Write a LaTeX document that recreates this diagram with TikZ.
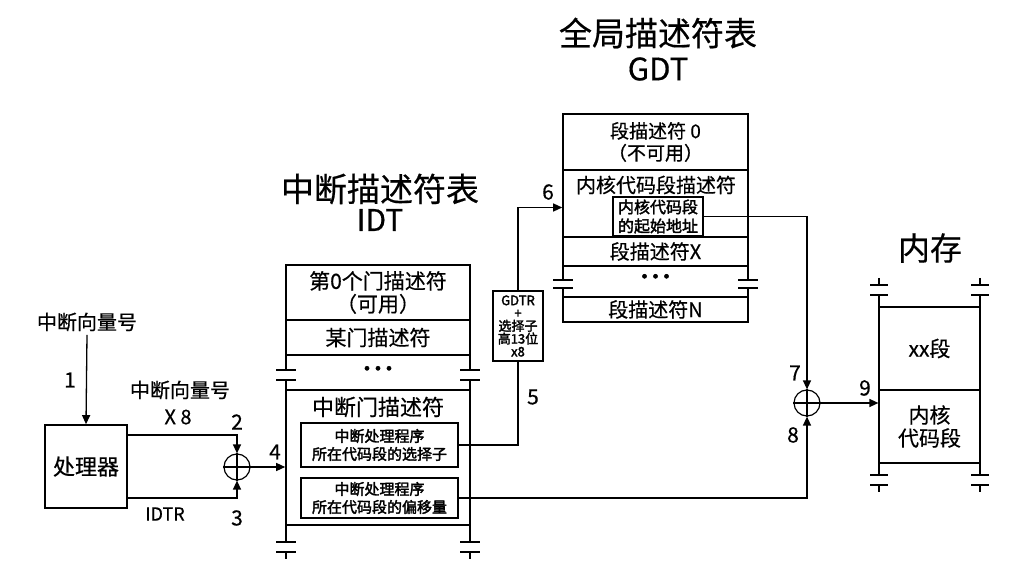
\documentclass[tikz,border=0pt]{standalone}
\usepackage{fontspec}
\setmainfont{Noto Sans CJK SC}[FakeBold=0.5, AutoFakeBold=2.2]
\usetikzlibrary{arrows.meta}
\newcommand\fsz[2]{\fontsize{#1}{#2}\selectfont}
\newcommand\tdots{·\kern-9pt·\kern-9pt·}
\begin{document}
\begin{tikzpicture}[x=1pt,y=-1pt,
  tbl/.style={draw, line width=1.6pt, inner sep=0pt, align=center},
  mem/.style={draw, line width=1.2pt, inner sep=0pt, align=center},
  inbox/.style={draw, line width=1.2pt, inner sep=0pt, align=center, font=\fsz{15}{18}\bfseries},
  side/.style={line width=1.4pt},
  conn/.style={line width=1.3pt},
  arr/.style={conn, -{Triangle[length=9pt,width=8pt]}},
  num/.style={font=\fsz{21}{21}},
  lbl/.style={font=\fsz{20}{22}, align=center}]
\useasboundingbox (0,0) rectangle (1033,569);

% titles
\node[font=\fsz{33}{36}] (tgdt) at (658,33) {全局描述符表};
\node[font=\fsz{31}{34}] (tgdt2) at (658,69) {GDT};
\node[font=\fsz{33}{36}] (tidt) at (380,189) {中断描述符表};
\node[font=\fsz{30}{34}] (tidt2) at (380,220) {IDT};
\node[font=\fsz{32}{36}] (tmem) at (930,248) {内存};

% processor
\node[lbl] (vec) at (87,322) {中断向量号};
\node[tbl, minimum width=82, minimum height=83, font=\fsz{22}{24}] (proc) at (86,466.5) {处理器};
\node[lbl] (vec2) at (180,390) {中断向量号};
\node[lbl] (x8) at (178,417) {X 8};
\node[font=\fsz{18}{20}] (idtr) at (165,514) {IDTR};
\node[draw, circle, line width=1.2pt, minimum size=26, inner sep=0pt] (c1) at (237,467) {};
\draw[line width=1.2pt] (c1.north) -- (c1.south) (c1.west) -- (c1.east);

% IDT
\node[tbl, minimum width=184, minimum height=55, font=\fsz{21}{23}] (i0) at (378,292.5) {第0个门描述符\\（可用）};
\node[tbl, minimum width=184, minimum height=35, font=\fsz{21}{23}] (i1) at (378,337.5) {某门描述符};
\node[font=\fsz{20}{20}\bfseries] (idots) at (378,371) {\tdots};
\node[tbl, minimum width=184, minimum height=135] (gate) at (378,457.5) {};
\node[font=\fsz{22}{24}] (gtxt) at (378,407) {中断门描述符};
\node[inbox, minimum width=157, minimum height=44] (sel) at (379.5,445) {中断处理程序\\所在代码段的选择子};
\node[inbox, minimum width=157, minimum height=40] (off) at (379.5,498) {中断处理程序\\所在代码段的偏移量};
\foreach \x in {286,470} {
  \draw[side] (\x,355) -- (\x,370) (\x-10,370) -- (\x+10,370) (\x-10,380) -- (\x+10,380) (\x,380) -- (\x,390);
  \draw[side] (\x,525) -- (\x,542) (\x-10,542) -- (\x+10,542) (\x-10,552) -- (\x+10,552) (\x,552) -- (\x,559);
}

% GDTR box
\node[draw, line width=1.4pt, minimum width=50, minimum height=70, inner sep=0pt, align=center, font=\fsz{13}{12.8}\bfseries] (gdtr) at (518,326) {GDTR\\+\\选择子\\高13位\\x8};

% GDT
\node[tbl, minimum width=185, minimum height=56, font=\fsz{19}{22}] (g0) at (655.5,142) {段描述符 0\\（不可用）};
\node[tbl, minimum width=185, minimum height=67] (g1) at (655.5,203.5) {};
\node[font=\fsz{20}{22}] (g1t) at (656,185) {内核代码段描述符};
\node[inbox, minimum width=90, minimum height=39, font=\fsz{16}{19}\bfseries] (base) at (658,216.5) {内核代码段\\的起始地址};
\node[tbl, minimum width=185, minimum height=29, font=\fsz{20}{22}] (gx) at (655.5,251.5) {段描述符X};
\node[font=\fsz{20}{20}\bfseries] (gdots) at (655.5,279) {\tdots};
\node[tbl, minimum width=185, minimum height=25, font=\fsz{20}{22}] (gn) at (655.5,309.5) {段描述符N};
\foreach \x in {563,748} {
  \draw[side] (\x,266) -- (\x,280) (\x-10,280) -- (\x+10,280) (\x-10,288) -- (\x+10,288) (\x,288) -- (\x,297);
}

% memory
\node[mem, minimum width=101, minimum height=83, font=\fsz{21}{23}] (mx) at (929.5,348.5) {xx段};
\node[mem, minimum width=101, minimum height=73, font=\fsz{21}{23}] (mk) at (929.5,426.5) {内核\\代码段};
\foreach \x in {879,980} {
  \draw[line width=1.2pt] (\x,278) -- (\x,285) (\x-9,285) -- (\x+9,285) (\x-9,295) -- (\x+9,295) (\x,295) -- (\x,307);
  \draw[line width=1.2pt] (\x,463) -- (\x,475) (\x-9,475) -- (\x+9,475) (\x-9,485) -- (\x+9,485) (\x,485) -- (\x,492);
}
\node[draw, circle, line width=1.2pt, minimum size=26, inner sep=0pt] (c2) at (807,403) {};
\draw[line width=1.2pt] (c2.north) -- (c2.south) (c2.west) -- (c2.east);

% connectors
\draw[arr] (vec.south) -- (proc.north);
\draw[arr] ([yshift=31.5pt]proc.east) -| (c1.north);
\draw[arr] ([yshift=-31.5pt]proc.east) -| (c1.south);
\draw[arr] (c1.east) -- (c1.east -| gate.west);
\draw[conn] (sel.east) -| (gdtr.south);
\draw[arr] (gdtr.north) |- ([yshift=-4pt]g1.west);
\draw[arr] (base.east) -| (c2.north);
\draw[arr] (off.east) -| (c2.south);
\draw[arr] (c2.east) -- (c2.east -| mk.west);

% step numbers
\node[num] (n1) at (70,380) {1};
\node[num] (n2) at (237,422) {2};
\node[num] (n3) at (237,518) {3};
\node[num] (n4) at (275,452) {4};
\node[num] (n5) at (533,397) {5};
\node[num] (n6) at (548,192) {6};
\node[num] (n7) at (795,373) {7};
\node[num] (n8) at (793,435) {8};
\node[num] (n9) at (865,388) {9};
\end{tikzpicture}
\end{document}
